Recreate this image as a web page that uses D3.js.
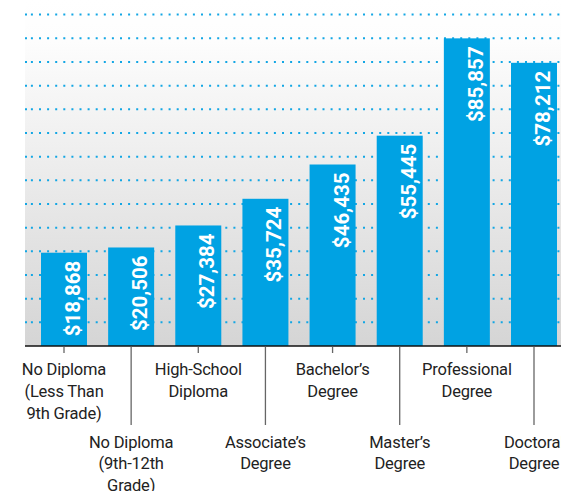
<!DOCTYPE html>
<html>
<head>
<meta charset="utf-8">
<script src="https://cdn.jsdelivr.net/npm/d3@7"></script>
<style>
  html, body { margin: 0; padding: 0; background: #fff; }
  svg { display: block; }
</style>
</head>
<body>
<svg id="chart" width="561" height="491"></svg>
<script>
// ---- data ----
const categories = [
  ["No Diploma", "(Less Than", "9th Grade)"],
  ["No Diploma", "(9th-12th", "Grade)"],
  ["High-School", "Diploma"],
  ["Associate’s", "Degree"],
  ["Bachelor’s", "Degree"],
  ["Master’s", "Degree"],
  ["Professional", "Degree"],
  ["Doctoral", "Degree"]
];
const earnings = [18868, 20506, 27384, 35724, 46435, 55445, 85857, 78212];
const valueLabels = ["$18,868", "$20,506", "$27,384", "$35,724", "$46,435", "$55,445", "$85,857", "$78,212"];

// ---- layout ----
const W = 561, H = 491;
const left = 25, baseY = 346;
const blue = "#00a2e3";
const gridCount = 14, gridStep = 23.67;

const svg = d3.select("#chart");

const x = d3.scaleBand()
  .domain(d3.range(categories.length))
  .range([left, 573])
  .paddingInner(0.3149)
  .paddingOuter(0.2383);

const y = d3.scaleLinear()
  .domain([-10280, 97840])
  .range([baseY, 0]);

// background gradient
const defs = svg.append("defs");
const grad = defs.append("linearGradient")
  .attr("id", "bg").attr("x1", 0).attr("y1", 0).attr("x2", 0).attr("y2", 1);
grad.append("stop").attr("offset", "0%").attr("stop-color", "#ffffff");
grad.append("stop").attr("offset", "12%").attr("stop-color", "#fdfdfd");
grad.append("stop").attr("offset", "45%").attr("stop-color", "#eeeeee");
grad.append("stop").attr("offset", "75%").attr("stop-color", "#e0e0e0");
grad.append("stop").attr("offset", "100%").attr("stop-color", "#d5d5d5");

svg.append("rect")
  .attr("x", left).attr("y", 0)
  .attr("width", W - left).attr("height", baseY)
  .attr("fill", "url(#bg)");

// dotted gridlines
const dash = [2, 3.9].concat(d3.range(80).flatMap(() => [2, 6.1])).join(",");
svg.append("g")
  .selectAll("line")
  .data(d3.range(1, gridCount + 1))
  .join("line")
  .attr("x1", left).attr("x2", W)
  .attr("y1", k => baseY - k * gridStep)
  .attr("y2", k => baseY - k * gridStep)
  .attr("stroke", "#12a6e4")
  .attr("stroke-width", 2)
  .attr("stroke-dasharray", dash);

// bars
svg.append("g")
  .selectAll("rect")
  .data(earnings)
  .join("rect")
  .attr("x", (d, i) => x(i))
  .attr("width", x.bandwidth())
  .attr("y", d => y(d))
  .attr("height", d => baseY - y(d))
  .attr("fill", blue);

// value labels
svg.append("g")
  .selectAll("text")
  .data(earnings)
  .join("text")
  .attr("transform", (d, i) => `translate(${x(i) + x.bandwidth() / 2 + 16},${y(d) + 8}) rotate(-90)`)
  .attr("text-anchor", "end")
  .attr("fill", "#fff")
  .attr("font-family", "Roboto, 'DejaVu Sans', sans-serif")
  .attr("font-weight", 700)
  .attr("font-size", 20.5)
  .text((d, i) => valueLabels[i]);

// baseline
svg.append("line")
  .attr("x1", left).attr("x2", W)
  .attr("y1", baseY).attr("y2", baseY)
  .attr("stroke", "#111").attr("stroke-width", 1.6);

// ticks (short for even index, long for odd)
svg.append("g")
  .selectAll("line")
  .data(categories)
  .join("line")
  .attr("x1", (d, i) => x(i) + x.bandwidth() / 2)
  .attr("x2", (d, i) => x(i) + x.bandwidth() / 2)
  .attr("y1", baseY + 0.8)
  .attr("y2", (d, i) => i % 2 === 0 ? baseY + 7 : 425)
  .attr("stroke", "#666")
  .attr("stroke-width", 1.3);

// category labels
const lineH = 21.7;
const labels = svg.append("g")
  .attr("font-family", "Roboto, 'DejaVu Sans', sans-serif")
  .attr("font-size", 16.5)
  .attr("letter-spacing", -0.2)
  .attr("fill", "#222")
  .attr("text-anchor", "middle");

labels.selectAll("text")
  .data(categories)
  .join("text")
  .attr("x", (d, i) => x(i) + x.bandwidth() / 2)
  .attr("y", (d, i) => i % 2 === 0 ? 375.3 : 447.5)
  .each(function(lines) {
    const t = d3.select(this);
    lines.forEach((ln, j) => {
      t.append("tspan")
        .attr("x", t.attr("x"))
        .attr("dy", j === 0 ? 0 : lineH)
        .text(ln);
    });
  });
</script>
</body>
</html>
